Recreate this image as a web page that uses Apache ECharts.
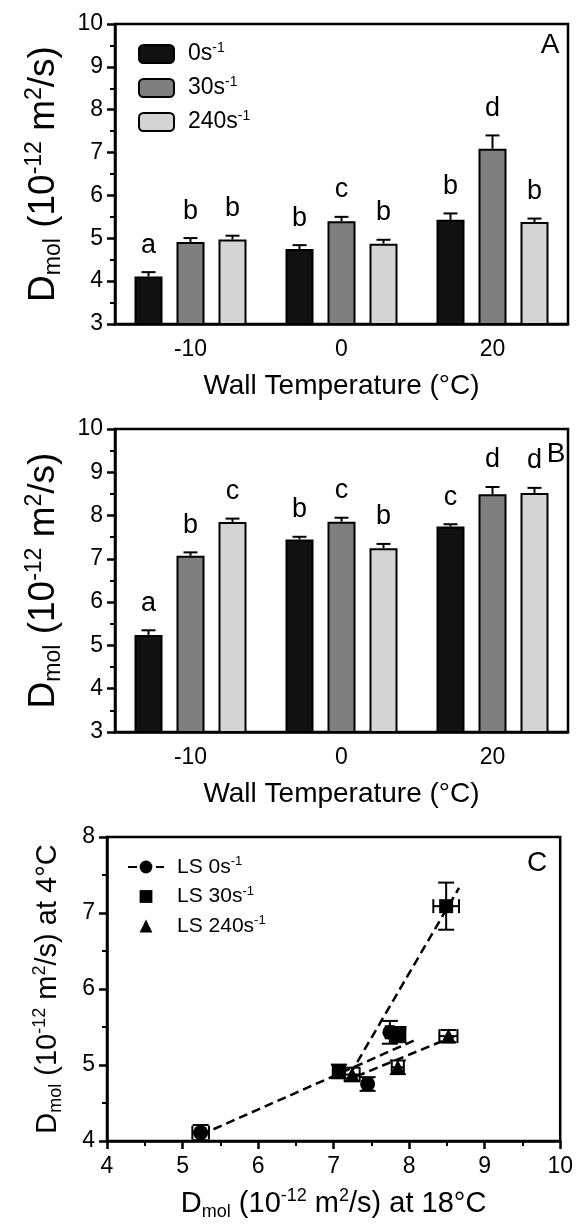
<!DOCTYPE html>
<html>
<head>
<meta charset="utf-8">
<title>Dmol vs wall temperature</title>
<script src="https://cdn.jsdelivr.net/npm/echarts@6/dist/echarts.min.js"></script>
<style>html,body{margin:0;padding:0;background:#fff;}</style>
</head>
<body>
<div id="main" style="width:576px;height:1225px;"></div>
<script>
// wall temperature groups and shear rates
var categories = ['-10', '0', '20'];
var shearNames = ['0s-1', '30s-1', '240s-1'];

// panel A : mean, error, letters (per shear rate, per wall temp)
var aMean0 = [4.11, 4.75, 5.43];
var aMean30 = [4.915, 5.40, 7.09];
var aMean240 = [4.97, 4.875, 5.38];
var aErr0 = [0.10, 0.09, 0.15];
var aErr30 = [0.09, 0.10, 0.31];
var aErr240 = [0.09, 0.09, 0.08];
var aLet0 = ['a', 'b', 'b'];
var aLet30 = ['b', 'c', 'd'];
var aLet240 = ['b', 'b', 'b'];

// panel B
var bMean0 = [5.24, 7.45, 7.745];
var bMean30 = [7.07, 7.86, 8.49];
var bMean240 = [7.85, 7.245, 8.52];
var bErr0 = [0.11, 0.06, 0.055];
var bErr30 = [0.08, 0.09, 0.17];
var bErr240 = [0.08, 0.10, 0.12];
var bLet0 = ['a', 'b', 'c'];
var bLet30 = ['b', 'c', 'd'];
var bLet240 = ['c', 'b', 'd'];

// panel C dashed fit lines (end points)
var fit0 = [[5.24, 4.08], [8.06, 5.32]];
var fit30 = [[7.22, 4.88], [8.66, 7.33]];
var fit240 = [[7.30, 4.85], [8.60, 5.38]];

var FONT = '"Liberation Sans", Arial, sans-serif';
var barColors = ['#111111', '#7f7f7f', '#d4d4d4'];

var chart = echarts.init(document.getElementById('main'));

var supRich = {
    b: {fontSize: 37, fontFamily: FONT, lineHeight: 42, color: '#000'},
    sup: {fontSize: 23, fontFamily: FONT, lineHeight: 23, verticalAlign: 'top', color: '#000'},
    sub: {fontSize: 23, fontFamily: FONT, lineHeight: 23, verticalAlign: 'bottom', color: '#000'}
};
var supRichC = {
    b: {fontSize: 29, fontFamily: FONT, lineHeight: 34, color: '#000'},
    sup: {fontSize: 18, fontFamily: FONT, lineHeight: 18, verticalAlign: 'top', color: '#000'},
    sub: {fontSize: 18, fontFamily: FONT, lineHeight: 18, verticalAlign: 'bottom', color: '#000'}
};
var dmol = '{b|D}{sub|mol}{b| (10}{sup|-12}{b| m}{sup|2}{b|/s)}';

function catAxis(idx) {
    return {
        type: 'category', gridIndex: idx, data: categories,
        name: 'Wall Temperature (°C)', nameLocation: 'middle', nameGap: 48,
        nameTextStyle: {fontSize: 28, fontFamily: FONT, color: '#000'},
        axisLine: {lineStyle: {color: '#000', width: 2.5}},
        axisTick: {alignWithLabel: true, length: 8, lineStyle: {width: 2.5}},
        axisLabel: {fontSize: 23, fontFamily: FONT, color: '#000', margin: 14}
    };
}
function valAxis(idx, min, max, rich, name, gap) {
    return {
        type: 'value', gridIndex: idx, min: min, max: max, interval: 1,
        name: name, nameLocation: 'middle', nameGap: gap,
        nameTextStyle: {rich: rich},
        splitLine: {show: false},
        axisLine: {show: true, lineStyle: {color: '#000', width: 2.5}},
        axisTick: {show: true, length: 8, lineStyle: {width: 2.5}},
        minorTick: {show: true, splitNumber: 2, length: 5, lineStyle: {color: '#000', width: 2}},
        axisLabel: {fontSize: 23, fontFamily: FONT, color: '#000', margin: 12}
    };
}

function barSeries(name, idx, k, means) {
    return {
        name: name, type: 'bar', xAxisIndex: idx, yAxisIndex: idx,
        data: means, barWidth: 28, barGap: '50%',
        itemStyle: {color: barColors[k], borderColor: '#000', borderWidth: 2}
    };
}
// upward error bar + significance letter, offset to the k-th bar in group
function errSeries(idx, k, means, errs, letters) {
    return {
        type: 'custom', xAxisIndex: idx, yAxisIndex: idx, z: 5, silent: true,
        data: means.map(function (m, i) { return [i, m, errs[i]]; }),
        renderItem: function (params, api) {
            var x = api.coord([api.value(0), api.value(1)])[0] + (k - 1) * 42;
            var yb = api.coord([api.value(0), api.value(1)])[1];
            var yt = api.coord([api.value(0), api.value(1) + api.value(2)])[1];
            var ls = {stroke: '#000', lineWidth: 2};
            return {type: 'group', children: [
                {type: 'line', shape: {x1: x, y1: yb, x2: x, y2: yt}, style: ls},
                {type: 'line', shape: {x1: x - 7, y1: yt, x2: x + 7, y2: yt}, style: ls},
                {type: 'text', style: {text: letters[params.dataIndex], x: x, y: yt - 27,
                    align: 'center', verticalAlign: 'middle', fontSize: 27, fontFamily: FONT, fill: '#000'}}
            ]};
        }
    };
}

// panel C points: x = 18 °C (panel B), y = 4 °C (panel A)
function pairs(bm, am, be, ae) {
    return bm.map(function (v, i) { return [v, am[i], be[i], ae[i]]; });
}
var c0 = pairs(bMean0, aMean0, bErr0, aErr0);
var c30 = pairs(bMean30, aMean30, bErr30, aErr30);
var c240 = pairs(bMean240, aMean240, bErr240, aErr240);

function xyErrSeries(data) {
    return {
        type: 'custom', xAxisIndex: 2, yAxisIndex: 2, z: 3, silent: true, data: data,
        renderItem: function (params, api) {
            var x = api.value(0), y = api.value(1), ex = api.value(2), ey = api.value(3);
            var l = api.coord([x - ex, y]), r = api.coord([x + ex, y]);
            var t = api.coord([x, y + ey]), b = api.coord([x, y - ey]);
            var ls = {stroke: '#000', lineWidth: 2};
            return {type: 'group', children: [
                {type: 'line', shape: {x1: l[0], y1: l[1], x2: r[0], y2: r[1]}, style: ls},
                {type: 'line', shape: {x1: l[0], y1: l[1] - 7, x2: l[0], y2: l[1] + 7}, style: ls},
                {type: 'line', shape: {x1: r[0], y1: r[1] - 7, x2: r[0], y2: r[1] + 7}, style: ls},
                {type: 'line', shape: {x1: t[0], y1: t[1], x2: b[0], y2: b[1]}, style: ls},
                {type: 'line', shape: {x1: t[0] - 8, y1: t[1], x2: t[0] + 8, y2: t[1]}, style: ls},
                {type: 'line', shape: {x1: b[0] - 8, y1: b[1], x2: b[0] + 8, y2: b[1]}, style: ls}
            ]};
        }
    };
}
function fitSeries(name, pts) {
    return {
        name: name, type: 'line', xAxisIndex: 2, yAxisIndex: 2, data: pts,
        symbol: 'circle', symbolSize: 14, showSymbol: false, silent: true, z: 2,
        itemStyle: {color: '#000'},
        lineStyle: {color: '#000', width: 2.5, type: [9, 5]}
    };
}
// points as a line series with an invisible line, so the legend keeps square/triangle shapes
function pointSeries(name, symbol, size, data) {
    return {
        name: name, type: 'line', xAxisIndex: 2, yAxisIndex: 2, z: 4,
        symbol: symbol, symbolSize: size, showAllSymbol: true,
        itemStyle: {color: '#000'}, lineStyle: {width: 0, opacity: 0},
        data: data.map(function (d) { return [d[0], d[1]]; })
    };
}

var supFmt = function (name) {
    return '{t|' + name.replace('-1', '') + '}{s|-1}';
};

var option = {
    animation: false,
    backgroundColor: '#fff',
    textStyle: {fontFamily: FONT, color: '#000'},
    grid: [
        {left: 115, top: 24, width: 453, height: 300, show: true, borderColor: '#000', borderWidth: 2.5},
        {left: 115, top: 429, width: 453, height: 303, show: true, borderColor: '#000', borderWidth: 2.5},
        {left: 107, top: 837, width: 458, height: 304, show: true, borderColor: '#000', borderWidth: 2.5}
    ],
    xAxis: [
        catAxis(0), catAxis(1),
        {
            type: 'value', gridIndex: 2, min: 4, max: 10, interval: 1,
            name: '{b|D}{sub|mol}{b| (10}{sup|-12}{b| m}{sup|2}{b|/s) at 18°C}',
            nameLocation: 'middle', nameGap: 46, nameTextStyle: {rich: supRichC},
            splitLine: {show: false},
            axisLine: {lineStyle: {color: '#000', width: 2.5}},
            axisTick: {length: 8, lineStyle: {width: 2.5}},
            minorTick: {show: true, splitNumber: 2, length: 5, lineStyle: {color: '#000', width: 2}},
            axisLabel: {fontSize: 23, fontFamily: FONT, color: '#000', margin: 14}
        }
    ],
    yAxis: [
        valAxis(0, 3, 10, supRich, dmol, 50),
        valAxis(1, 3, 10, supRich, dmol, 50),
        valAxis(2, 4, 8, supRichC, '{b|D}{sub|mol}{b| (10}{sup|-12}{b| m}{sup|2}{b|/s) at 4°C}', 42)
    ],
    legend: [
        {
            data: shearNames, orient: 'vertical', left: 133, top: 36,
            itemWidth: 35, itemHeight: 18, itemGap: 9.5, selectedMode: false,
            formatter: supFmt,
            textStyle: {padding: [0, 0, 0, 9], rich: {
                t: {fontSize: 23, fontFamily: FONT, color: '#000', lineHeight: 26},
                s: {fontSize: 14, fontFamily: FONT, color: '#000', lineHeight: 14, verticalAlign: 'top'}
            }}
        },
        {
            data: ['LS 0s-1', 'LS 30s-1', 'LS 240s-1'], orient: 'vertical', left: 122, top: 850,
            itemWidth: 36, itemHeight: 16, itemGap: 7, selectedMode: false,
            formatter: supFmt,
            textStyle: {padding: [0, 0, 0, 8], rich: {
                t: {fontSize: 21, fontFamily: FONT, color: '#000', lineHeight: 24},
                s: {fontSize: 13, fontFamily: FONT, color: '#000', lineHeight: 13, verticalAlign: 'top'}
            }}
        }
    ],
    graphic: [
        {type: 'text', x: 550, y: 45, style: {text: 'A', fontSize: 28, fontFamily: FONT, fill: '#000', align: 'center', verticalAlign: 'middle'}},
        {type: 'text', x: 556, y: 454, style: {text: 'B', fontSize: 28, fontFamily: FONT, fill: '#000', align: 'center', verticalAlign: 'middle'}},
        {type: 'text', x: 537, y: 863, style: {text: 'C', fontSize: 28, fontFamily: FONT, fill: '#000', align: 'center', verticalAlign: 'middle'}}
    ],
    series: [
        barSeries(shearNames[0], 0, 0, aMean0),
        barSeries(shearNames[1], 0, 1, aMean30),
        barSeries(shearNames[2], 0, 2, aMean240),
        errSeries(0, 0, aMean0, aErr0, aLet0),
        errSeries(0, 1, aMean30, aErr30, aLet30),
        errSeries(0, 2, aMean240, aErr240, aLet240),
        barSeries('B ' + shearNames[0], 1, 0, bMean0),
        barSeries('B ' + shearNames[1], 1, 1, bMean30),
        barSeries('B ' + shearNames[2], 1, 2, bMean240),
        errSeries(1, 0, bMean0, bErr0, bLet0),
        errSeries(1, 1, bMean30, bErr30, bLet30),
        errSeries(1, 2, bMean240, bErr240, bLet240),
        fitSeries('LS 0s-1', fit0),
        fitSeries('fit 30', fit30),
        fitSeries('fit 240', fit240),
        xyErrSeries(c0), xyErrSeries(c30), xyErrSeries(c240),
        pointSeries('LS 0s-1', 'circle', 15, c0),
        pointSeries('LS 30s-1', 'rect', 14, c30),
        pointSeries('LS 240s-1', 'triangle', 15, c240)
    ]
};

chart.setOption(option);
</script>
</body>
</html>
